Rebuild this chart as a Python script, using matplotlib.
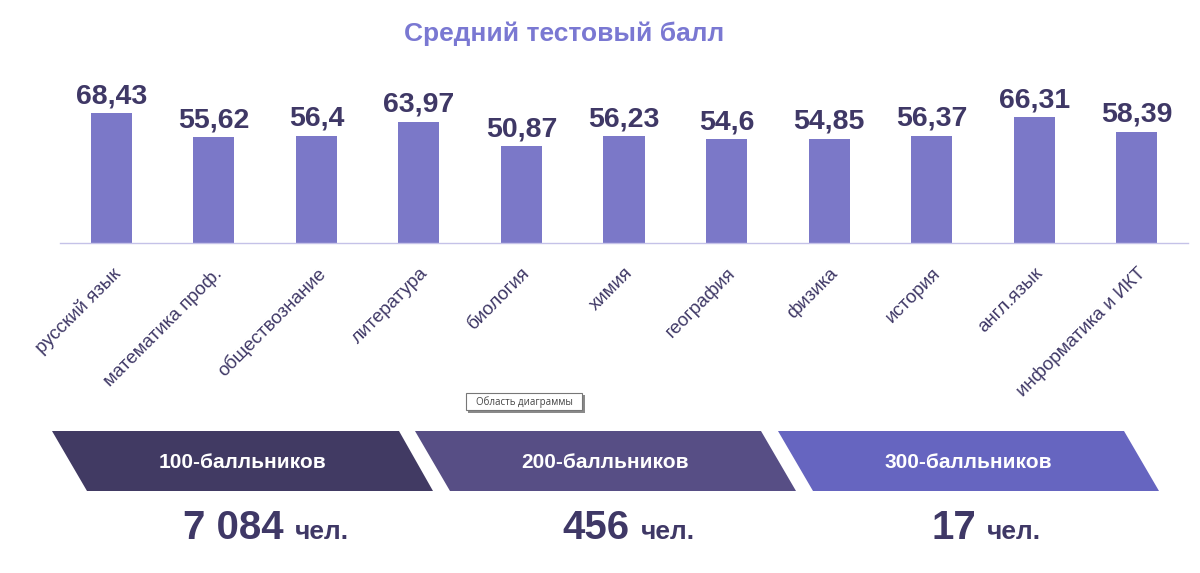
import matplotlib
matplotlib.use('Agg')
import matplotlib.pyplot as plt
from matplotlib.patches import Polygon

plt.rcParams['font.family'] = ['Liberation Sans', 'DejaVu Sans']

subjects = ['русский язык', 'математика проф.', 'обществознание', 'литература', 'биология', 'химия',
            'география', 'физика', 'история', 'англ.язык', 'информатика и ИКТ']
scores = [68.43, 55.62, 56.4, 63.97, 50.87, 56.23, 54.6, 54.85, 56.37, 66.31, 58.39]
score_labels = ['68,43', '55,62', '56,4', '63,97', '50,87', '56,23', '54,6', '54,85', '56,37', '66,31', '58,39']

banner_titles = ['100-балльников', '200-балльников', '300-балльников']
banner_counts = ['7 084', '456', '17']

W, H = 1200, 573
DARK = '#3f3866'
BAR = '#7b78c8'

fig = plt.figure(figsize=(W / 100, H / 100), dpi=100, facecolor='white')

# основная диаграмма
ax = fig.add_axes([60 / W, 1 - 242.5 / H, 1128 / W, 189 / H])
x = range(len(subjects))
ax.bar(x, scores, width=0.4, color=BAR)
ax.set_xlim(-0.5, 10.5)
ax.set_ylim(0, 100)
ax.set_yticks([])
ax.set_xticks(list(x))
ax.set_xticklabels(subjects, rotation=45, ha='right', rotation_mode='anchor', fontsize=13.5, color=DARK)
ax.tick_params(axis='x', length=0, pad=16)
for s in ['top', 'left', 'right']:
    ax.spines[s].set_visible(False)
ax.spines['bottom'].set_color('#c5c2e8')
ax.spines['bottom'].set_linewidth(1)
for i in x:
    ax.annotate(score_labels[i], (i, scores[i]), xytext=(0, 3), textcoords='offset points',
                ha='center', va='bottom', fontsize=20.5, fontweight='bold', color=DARK)

# слой в пикселях: заголовок, плашки, подсказка
top = fig.add_axes([0, 0, 1, 1], facecolor='none')
top.set_xlim(0, W)
top.set_ylim(H, 0)
top.axis('off')

top.text(564, 34, 'Средний тестовый балл', ha='center', va='center', fontsize=19,
         fontweight='bold', color='#7a78d2')

shapes = [
    [(52, 431), (399, 431), (433, 491), (87, 491)],
    [(415, 431), (761, 431), (796, 491), (450, 491)],
    [(778, 431), (1124, 431), (1159, 491), (813, 491)],
]
colors = ['#413a63', '#574e85', '#6665c0']
title_x = [242, 605, 968]
for pts, c, tx, name in zip(shapes, colors, title_x, banner_titles):
    top.add_patch(Polygon(pts, closed=True, facecolor=c, edgecolor='none'))
    top.text(tx, 463, name, ha='center', va='center', fontsize=15, fontweight='bold', color='white')

count_x = [183, 562, 932]
unit_x = [295, 641, 987]
for cx, ux, n in zip(count_x, unit_x, banner_counts):
    top.text(cx, 539, n, ha='left', va='baseline', fontsize=29, fontweight='bold', color=DARK)
    top.text(ux, 539, 'чел.', ha='left', va='baseline', fontsize=19, fontweight='bold', color=DARK)

# всплывающая подсказка
top.add_patch(plt.Rectangle((468, 395), 117, 18, facecolor='#8a8a8a', edgecolor='none'))
top.add_patch(plt.Rectangle((466, 393), 116, 17, facecolor='white', edgecolor='#777777', linewidth=0.8))
top.text(524, 402, 'Область диаграммы', ha='center', va='center', fontsize=7, color='#444444',
         family=['Open Sans', 'DejaVu Sans'])

fig.savefig('out.png', dpi=100)
